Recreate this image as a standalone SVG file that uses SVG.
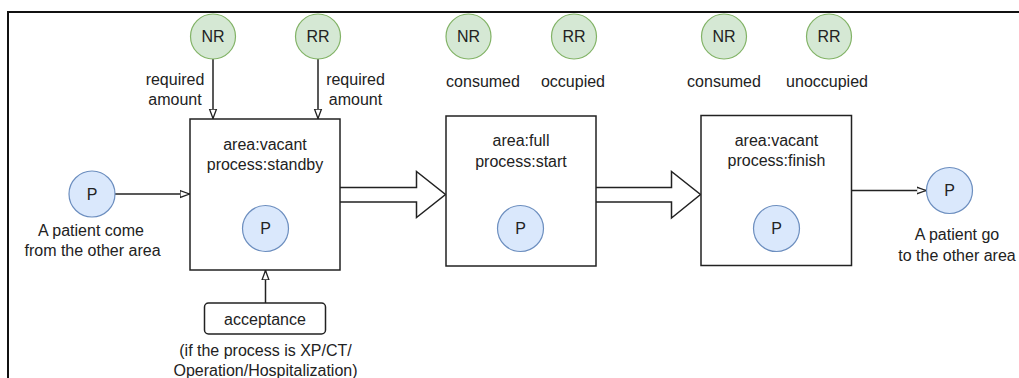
<svg xmlns="http://www.w3.org/2000/svg" width="1019" height="378" viewBox="0 0 1019 378">
<defs>
<marker id="open" viewBox="0 0 10 10" refX="10" refY="5" markerWidth="10" markerHeight="10" markerUnits="userSpaceOnUse" orient="auto">
<path d="M0,1.5 L9.5,5 L0,8.5 Z" fill="#fff" stroke="#222" stroke-width="1.3"/>
</marker>
</defs>
<style>
text{font-family:"Liberation Sans",Arial,sans-serif;font-size:16px;fill:#222;text-anchor:middle;dominant-baseline:central}
.nr{fill:#d5e8d4;stroke:#82b366;stroke-width:1.2}
.p{fill:#dae8fc;stroke:#6c8ebf;stroke-width:1.2}
.box{fill:#fff;stroke:#222;stroke-width:1.5}
.ln{fill:none;stroke:#222;stroke-width:1.5}
.big{fill:#fff;stroke:#222;stroke-width:1.5;stroke-linejoin:miter}
</style>
<rect width="1019" height="378" fill="#fff"/>
<path d="M8,378 V12 H1019" fill="none" stroke="#111" stroke-width="2"/>

<g id="connectors">
<line class="ln" x1="213" y1="59" x2="213" y2="119" marker-end="url(#open)"/>
<line class="ln" x1="318" y1="59" x2="318" y2="119" marker-end="url(#open)"/>
<line class="ln" x1="115" y1="194" x2="190" y2="194" marker-end="url(#open)"/>
<line class="ln" x1="265.5" y1="303" x2="265.5" y2="270" marker-end="url(#open)"/>
<line class="ln" x1="851" y1="190.5" x2="926.5" y2="190.5" marker-end="url(#open)"/>
<path class="big" d="M340,187.5 H416.5 V171.5 L445.5,194.5 L416.5,217.5 V202 H340"/>
<path class="big" d="M596,187.5 H671.5 V171.5 L700.5,194.5 L671.5,218 V202 H596"/>
</g>

<g id="nr1"><circle class="nr" cx="213" cy="36.5" r="22.5"/><text x="213" y="36.5">NR</text></g>
<g id="rr1"><circle class="nr" cx="318" cy="36.5" r="22.5"/><text x="318" y="36.5">RR</text></g>
<g id="nr2"><circle class="nr" cx="468.5" cy="36.5" r="22.5"/><text x="468.5" y="36.5">NR</text></g>
<g id="rr2"><circle class="nr" cx="574" cy="36.5" r="22.5"/><text x="574" y="36.5">RR</text></g>
<g id="nr3"><circle class="nr" cx="724" cy="36.5" r="22.5"/><text x="724" y="36.5">NR</text></g>
<g id="rr3"><circle class="nr" cx="829" cy="36.5" r="22.5"/><text x="829" y="36.5">RR</text></g>

<g id="lbl-req1"><text x="175" y="79">required</text><text x="175" y="99">amount</text></g>
<g id="lbl-req2"><text x="355.5" y="79">required</text><text x="355.5" y="99">amount</text></g>
<g id="lbl-col2"><text x="483" y="81">consumed</text><text x="573" y="81">occupied</text></g>
<g id="lbl-col3"><text x="724" y="81">consumed</text><text x="827" y="81">unoccupied</text></g>

<g id="box1"><rect class="box" x="190" y="119" width="150" height="151"/><text x="265" y="144">area:vacant</text><text x="265" y="164">process:standby</text></g>
<g id="box2"><rect class="box" x="446" y="116" width="150" height="150"/><text x="521" y="140">area:full</text><text x="521" y="161">process:start</text></g>
<g id="box3"><rect class="box" x="701" y="115.5" width="150.5" height="150"/><text x="776.5" y="140">area:vacant</text><text x="776.5" y="160.5">process:finish</text></g>

<g id="p-in1"><circle class="p" cx="265.5" cy="228.5" r="23"/><text x="265.5" y="228.5">P</text></g>
<g id="p-in2"><circle class="p" cx="520.5" cy="228.5" r="23"/><text x="520.5" y="228.5">P</text></g>
<g id="p-in3"><circle class="p" cx="776.5" cy="228.5" r="23"/><text x="776.5" y="228.5">P</text></g>

<g id="p-left"><circle class="p" cx="92" cy="194" r="23"/><text x="92" y="194">P</text><text x="91" y="230">A patient come</text><text x="92.5" y="250.5">from the other area</text></g>
<g id="p-right"><circle class="p" cx="949.5" cy="190.5" r="23"/><text x="949.5" y="190.5">P</text><text x="957" y="234">A patient go</text><text x="957" y="255">to the other area</text></g>

<g id="acceptance"><rect class="box" x="204.5" y="303" width="121" height="31" rx="4"/><text x="265" y="319">acceptance</text><text x="265.5" y="350.5">(if the process is XP/CT/</text><text x="265.5" y="370.5">Operation/Hospitalization)</text></g>
</svg>
